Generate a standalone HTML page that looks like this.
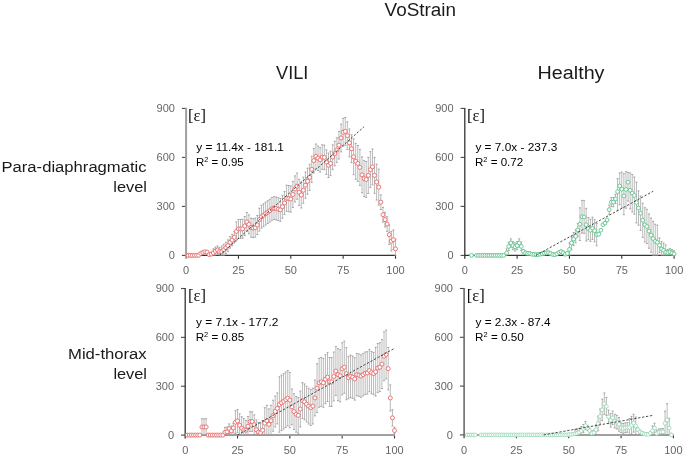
<!DOCTYPE html>
<html><head><meta charset="utf-8"><style>
html,body{margin:0;padding:0;background:#fff;}
body{width:685px;height:462px;overflow:hidden;position:relative;}
svg{position:absolute;left:0;top:0;will-change:transform;}
text{font-family:"Liberation Sans",sans-serif;}
.tk{font-size:11px;fill:#666;}
.hd{font-size:19.2px;fill:#1a1a1a;}
.rl{font-size:15.5px;fill:#1a1a1a;}
.eq{font-size:11px;fill:#000;}
.ep{font-family:"Liberation Serif",serif;font-size:16.6px;fill:#111;}
</style></head><body>
<svg width="685" height="462" viewBox="0 0 685 462">
<text x="384.6" y="15.8" class="hd" textLength="71.5" lengthAdjust="spacingAndGlyphs">VoStrain</text>
<text x="276.1" y="79.2" class="hd" textLength="32.2" lengthAdjust="spacingAndGlyphs">VILI</text>
<text x="537.6" y="79.3" class="hd" textLength="66.9" lengthAdjust="spacingAndGlyphs">Healthy</text>
<text x="1.5" y="171.6" class="rl" textLength="145.1" lengthAdjust="spacingAndGlyphs">Para-diaphragmatic</text>
<text x="113.3" y="191.9" class="rl" textLength="33.6" lengthAdjust="spacingAndGlyphs">level</text>
<text x="68.0" y="359.3" class="rl" textLength="78.7" lengthAdjust="spacingAndGlyphs">Mid-thorax</text>
<text x="113.4" y="379.3" class="rl" textLength="33.6" lengthAdjust="spacingAndGlyphs">level</text>
<text x="188.1" y="121.2" class="ep">[ε]</text>
<text x="466.9" y="121.2" class="ep">[ε]</text>
<text x="187.9" y="300.7" class="ep">[ε]</text>
<text x="466.7" y="300.7" class="ep">[ε]</text>
<text x="196.3" y="150.8" class="eq" textLength="87.6" lengthAdjust="spacingAndGlyphs">y = 11.4x - 181.1</text>
<text x="195.9" y="166.3" class="eq" textLength="47.8" lengthAdjust="spacingAndGlyphs">R<tspan font-size="7" dy="-4">2</tspan><tspan dy="4"> = 0.95</tspan></text>
<text x="475.4" y="151.1" class="eq" textLength="81.9" lengthAdjust="spacingAndGlyphs">y = 7.0x - 237.3</text>
<text x="475.0" y="166.3" class="eq" textLength="48.2" lengthAdjust="spacingAndGlyphs">R<tspan font-size="7" dy="-4">2</tspan><tspan dy="4"> = 0.72</tspan></text>
<text x="196.1" y="325.8" class="eq" textLength="82.2" lengthAdjust="spacingAndGlyphs">y = 7.1x - 177.2</text>
<text x="195.7" y="341.1" class="eq" textLength="48.6" lengthAdjust="spacingAndGlyphs">R<tspan font-size="7" dy="-4">2</tspan><tspan dy="4"> = 0.85</tspan></text>
<text x="475.5" y="325.8" class="eq" textLength="75.1" lengthAdjust="spacingAndGlyphs">y = 2.3x - 87.4</text>
<text x="475.1" y="341.1" class="eq" textLength="48.6" lengthAdjust="spacingAndGlyphs">R<tspan font-size="7" dy="-4">2</tspan><tspan dy="4"> = 0.50</tspan></text>
<line x1="181.90" y1="255.40" x2="186.10" y2="255.40" stroke="#4a4a4a" stroke-width="1.1"/>
<text x="174.90" y="259.35" text-anchor="end" class="tk">0</text>
<line x1="181.90" y1="206.40" x2="186.10" y2="206.40" stroke="#4a4a4a" stroke-width="1.1"/>
<text x="174.90" y="210.35" text-anchor="end" class="tk">300</text>
<line x1="181.90" y1="157.40" x2="186.10" y2="157.40" stroke="#4a4a4a" stroke-width="1.1"/>
<text x="174.90" y="161.35" text-anchor="end" class="tk">600</text>
<line x1="181.90" y1="108.40" x2="186.10" y2="108.40" stroke="#4a4a4a" stroke-width="1.1"/>
<text x="174.90" y="112.35" text-anchor="end" class="tk">900</text>
<line x1="238.45" y1="255.40" x2="238.45" y2="258.80" stroke="#333" stroke-width="1.1"/>
<line x1="290.80" y1="255.40" x2="290.80" y2="258.80" stroke="#333" stroke-width="1.1"/>
<line x1="343.15" y1="255.40" x2="343.15" y2="258.80" stroke="#333" stroke-width="1.1"/>
<line x1="395.50" y1="255.40" x2="395.50" y2="258.80" stroke="#333" stroke-width="1.1"/>
<text x="186.10" y="274.40" text-anchor="middle" class="tk">0</text>
<text x="238.45" y="274.40" text-anchor="middle" class="tk">25</text>
<text x="290.80" y="274.40" text-anchor="middle" class="tk">50</text>
<text x="343.15" y="274.40" text-anchor="middle" class="tk">75</text>
<text x="395.50" y="274.40" text-anchor="middle" class="tk">100</text>
<line x1="186.10" y1="255.40" x2="396.00" y2="255.40" stroke="#333" stroke-width="1.3"/>
<line x1="186.10" y1="107.90" x2="186.10" y2="258.80" stroke="#a0a0a0" stroke-width="2.0"/>
<line x1="460.60" y1="255.40" x2="464.80" y2="255.40" stroke="#4a4a4a" stroke-width="1.1"/>
<text x="453.60" y="259.35" text-anchor="end" class="tk">0</text>
<line x1="460.60" y1="206.40" x2="464.80" y2="206.40" stroke="#4a4a4a" stroke-width="1.1"/>
<text x="453.60" y="210.35" text-anchor="end" class="tk">300</text>
<line x1="460.60" y1="157.40" x2="464.80" y2="157.40" stroke="#4a4a4a" stroke-width="1.1"/>
<text x="453.60" y="161.35" text-anchor="end" class="tk">600</text>
<line x1="460.60" y1="108.40" x2="464.80" y2="108.40" stroke="#4a4a4a" stroke-width="1.1"/>
<text x="453.60" y="112.35" text-anchor="end" class="tk">900</text>
<line x1="517.12" y1="255.40" x2="517.12" y2="258.80" stroke="#333" stroke-width="1.1"/>
<line x1="569.45" y1="255.40" x2="569.45" y2="258.80" stroke="#333" stroke-width="1.1"/>
<line x1="621.77" y1="255.40" x2="621.77" y2="258.80" stroke="#333" stroke-width="1.1"/>
<line x1="674.10" y1="255.40" x2="674.10" y2="258.80" stroke="#333" stroke-width="1.1"/>
<text x="464.80" y="274.40" text-anchor="middle" class="tk">0</text>
<text x="517.12" y="274.40" text-anchor="middle" class="tk">25</text>
<text x="569.45" y="274.40" text-anchor="middle" class="tk">50</text>
<text x="621.77" y="274.40" text-anchor="middle" class="tk">75</text>
<text x="674.10" y="274.40" text-anchor="middle" class="tk">100</text>
<line x1="464.80" y1="255.40" x2="674.60" y2="255.40" stroke="#333" stroke-width="1.3"/>
<line x1="464.80" y1="107.90" x2="464.80" y2="258.80" stroke="#333" stroke-width="1.3"/>
<line x1="181.00" y1="435.10" x2="185.20" y2="435.10" stroke="#4a4a4a" stroke-width="1.1"/>
<text x="174.00" y="439.05" text-anchor="end" class="tk">0</text>
<line x1="181.00" y1="386.23" x2="185.20" y2="386.23" stroke="#4a4a4a" stroke-width="1.1"/>
<text x="174.00" y="390.18" text-anchor="end" class="tk">300</text>
<line x1="181.00" y1="337.37" x2="185.20" y2="337.37" stroke="#4a4a4a" stroke-width="1.1"/>
<text x="174.00" y="341.32" text-anchor="end" class="tk">600</text>
<line x1="181.00" y1="288.50" x2="185.20" y2="288.50" stroke="#4a4a4a" stroke-width="1.1"/>
<text x="174.00" y="292.45" text-anchor="end" class="tk">900</text>
<line x1="237.52" y1="435.10" x2="237.52" y2="438.50" stroke="#333" stroke-width="1.1"/>
<line x1="289.85" y1="435.10" x2="289.85" y2="438.50" stroke="#333" stroke-width="1.1"/>
<line x1="342.17" y1="435.10" x2="342.17" y2="438.50" stroke="#333" stroke-width="1.1"/>
<line x1="394.50" y1="435.10" x2="394.50" y2="438.50" stroke="#333" stroke-width="1.1"/>
<text x="185.20" y="454.10" text-anchor="middle" class="tk">0</text>
<text x="237.52" y="454.10" text-anchor="middle" class="tk">25</text>
<text x="289.85" y="454.10" text-anchor="middle" class="tk">50</text>
<text x="342.17" y="454.10" text-anchor="middle" class="tk">75</text>
<text x="394.50" y="454.10" text-anchor="middle" class="tk">100</text>
<line x1="185.20" y1="435.10" x2="395.00" y2="435.10" stroke="#a0a0a0" stroke-width="2.0"/>
<line x1="185.20" y1="288.00" x2="185.20" y2="438.50" stroke="#333" stroke-width="1.3"/>
<line x1="459.90" y1="434.90" x2="464.10" y2="434.90" stroke="#4a4a4a" stroke-width="1.1"/>
<text x="452.90" y="438.85" text-anchor="end" class="tk">0</text>
<line x1="459.90" y1="386.10" x2="464.10" y2="386.10" stroke="#4a4a4a" stroke-width="1.1"/>
<text x="452.90" y="390.05" text-anchor="end" class="tk">300</text>
<line x1="459.90" y1="337.30" x2="464.10" y2="337.30" stroke="#4a4a4a" stroke-width="1.1"/>
<text x="452.90" y="341.25" text-anchor="end" class="tk">600</text>
<line x1="459.90" y1="288.50" x2="464.10" y2="288.50" stroke="#4a4a4a" stroke-width="1.1"/>
<text x="452.90" y="292.45" text-anchor="end" class="tk">900</text>
<line x1="516.43" y1="434.90" x2="516.43" y2="438.30" stroke="#333" stroke-width="1.1"/>
<line x1="568.75" y1="434.90" x2="568.75" y2="438.30" stroke="#333" stroke-width="1.1"/>
<line x1="621.08" y1="434.90" x2="621.08" y2="438.30" stroke="#333" stroke-width="1.1"/>
<line x1="673.40" y1="434.90" x2="673.40" y2="438.30" stroke="#333" stroke-width="1.1"/>
<text x="464.10" y="453.90" text-anchor="middle" class="tk">0</text>
<text x="516.43" y="453.90" text-anchor="middle" class="tk">25</text>
<text x="568.75" y="453.90" text-anchor="middle" class="tk">50</text>
<text x="621.08" y="453.90" text-anchor="middle" class="tk">75</text>
<text x="673.40" y="453.90" text-anchor="middle" class="tk">100</text>
<line x1="464.10" y1="434.90" x2="673.90" y2="434.90" stroke="#a0a0a0" stroke-width="2.0"/>
<line x1="464.10" y1="288.00" x2="464.10" y2="438.30" stroke="#606060" stroke-width="1.5"/>
<path d="M188.19 254.75V255.40M190.29 254.75V255.40M192.38 254.75V255.40M194.48 254.75V255.40M196.57 254.75V255.40M198.66 254.58V255.40M200.76 252.79V254.09M202.85 251.81V253.11M204.95 251.15V252.46M207.04 251.48V252.79M209.13 252.95V255.40M211.23 252.46V255.40M213.32 248.87V255.40M215.42 247.07V255.24M217.51 245.93V254.09M219.60 247.56V255.40M221.70 245.93V255.40M223.79 244.13V255.40M225.89 242.17V253.60M227.98 239.88V251.32M230.07 236.62V248.05M232.17 234.33V245.76M234.26 231.55V242.99M236.36 221.92V240.86M238.45 219.47V238.41M240.54 219.47V238.41M242.64 219.30V238.25M244.73 216.53V235.47M246.83 212.44V231.39M248.92 214.89V233.84M251.01 218.16V237.11M253.11 218.65V237.60M255.20 218.16V237.11M257.30 215.55V234.49M259.39 208.20V231.06M261.48 205.26V228.12M263.58 203.79V226.65M265.67 202.15V225.02M267.77 200.68V223.55M269.86 199.21V222.08M271.95 197.42V220.28M274.05 196.60V219.47M276.14 197.09V219.96M278.24 197.74V220.61M280.33 198.40V221.26M282.42 195.29V218.16M284.52 191.54V214.40M286.61 185.17V211.30M288.71 185.49V211.63M290.80 185.98V212.12M292.89 181.41V207.54M294.99 175.86V201.99M297.08 173.08V199.21M299.18 179.29V205.42M301.27 181.90V208.03M303.36 177.16V203.30M305.46 172.10V198.23M307.55 168.18V194.31M309.65 164.26V190.39M311.74 156.26V182.39M313.83 148.42V172.92M315.93 144.01V168.51M318.02 145.97V170.47M320.12 147.60V172.10M322.21 144.82V169.32M324.30 145.15V169.65M326.40 149.89V174.39M328.49 152.99V177.49M330.59 151.19V175.69M332.68 144.82V169.32M334.77 141.23V165.73M336.87 137.80V162.30M338.96 131.27V159.03M341.06 124.08V151.85M343.15 118.36V146.13M345.24 117.55V145.31M347.34 121.79V149.56M349.43 128.98V156.75M351.53 134.86V162.63M353.62 138.78V174.71M355.71 143.35V179.29M357.81 145.48V181.41M359.90 149.40V185.33M362.00 156.91V192.84M364.09 160.67V196.60M366.18 161.48V197.42M368.28 157.40V193.33M370.37 151.68V187.62M372.47 148.91V184.84M374.56 157.40V193.33M376.65 164.10V200.03M378.75 169.16V205.09M380.84 194.80V209.50M382.94 207.38V222.08M385.03 212.28V226.98M387.12 216.69V231.39M389.22 224.86V244.46M391.31 231.39V250.99M393.41 229.92V249.52M395.50 239.07V255.40" stroke="#bababa" stroke-width="1.0" fill="none"/>
<path d="M187.19 254.75h2M187.19 255.40h2M189.29 254.75h2M189.29 255.40h2M191.38 254.75h2M191.38 255.40h2M193.48 254.75h2M193.48 255.40h2M195.57 254.75h2M195.57 255.40h2M197.66 254.58h2M197.66 255.40h2M199.76 252.79h2M199.76 254.09h2M201.85 251.81h2M201.85 253.11h2M203.95 251.15h2M203.95 252.46h2M206.04 251.48h2M206.04 252.79h2M208.13 252.95h2M208.13 255.40h2M210.23 252.46h2M210.23 255.40h2M212.32 248.87h2M212.32 255.40h2M214.42 247.07h2M214.42 255.24h2M216.51 245.93h2M216.51 254.09h2M218.60 247.56h2M218.60 255.40h2M220.70 245.93h2M220.70 255.40h2M222.79 244.13h2M222.79 255.40h2M224.89 242.17h2M224.89 253.60h2M226.98 239.88h2M226.98 251.32h2M229.07 236.62h2M229.07 248.05h2M231.17 234.33h2M231.17 245.76h2M233.26 231.55h2M233.26 242.99h2M235.36 221.92h2M235.36 240.86h2M237.45 219.47h2M237.45 238.41h2M239.54 219.47h2M239.54 238.41h2M241.64 219.30h2M241.64 238.25h2M243.73 216.53h2M243.73 235.47h2M245.83 212.44h2M245.83 231.39h2M247.92 214.89h2M247.92 233.84h2M250.01 218.16h2M250.01 237.11h2M252.11 218.65h2M252.11 237.60h2M254.20 218.16h2M254.20 237.11h2M256.30 215.55h2M256.30 234.49h2M258.39 208.20h2M258.39 231.06h2M260.48 205.26h2M260.48 228.12h2M262.58 203.79h2M262.58 226.65h2M264.67 202.15h2M264.67 225.02h2M266.77 200.68h2M266.77 223.55h2M268.86 199.21h2M268.86 222.08h2M270.95 197.42h2M270.95 220.28h2M273.05 196.60h2M273.05 219.47h2M275.14 197.09h2M275.14 219.96h2M277.24 197.74h2M277.24 220.61h2M279.33 198.40h2M279.33 221.26h2M281.42 195.29h2M281.42 218.16h2M283.52 191.54h2M283.52 214.40h2M285.61 185.17h2M285.61 211.30h2M287.71 185.49h2M287.71 211.63h2M289.80 185.98h2M289.80 212.12h2M291.89 181.41h2M291.89 207.54h2M293.99 175.86h2M293.99 201.99h2M296.08 173.08h2M296.08 199.21h2M298.18 179.29h2M298.18 205.42h2M300.27 181.90h2M300.27 208.03h2M302.36 177.16h2M302.36 203.30h2M304.46 172.10h2M304.46 198.23h2M306.55 168.18h2M306.55 194.31h2M308.65 164.26h2M308.65 190.39h2M310.74 156.26h2M310.74 182.39h2M312.83 148.42h2M312.83 172.92h2M314.93 144.01h2M314.93 168.51h2M317.02 145.97h2M317.02 170.47h2M319.12 147.60h2M319.12 172.10h2M321.21 144.82h2M321.21 169.32h2M323.30 145.15h2M323.30 169.65h2M325.40 149.89h2M325.40 174.39h2M327.49 152.99h2M327.49 177.49h2M329.59 151.19h2M329.59 175.69h2M331.68 144.82h2M331.68 169.32h2M333.77 141.23h2M333.77 165.73h2M335.87 137.80h2M335.87 162.30h2M337.96 131.27h2M337.96 159.03h2M340.06 124.08h2M340.06 151.85h2M342.15 118.36h2M342.15 146.13h2M344.24 117.55h2M344.24 145.31h2M346.34 121.79h2M346.34 149.56h2M348.43 128.98h2M348.43 156.75h2M350.53 134.86h2M350.53 162.63h2M352.62 138.78h2M352.62 174.71h2M354.71 143.35h2M354.71 179.29h2M356.81 145.48h2M356.81 181.41h2M358.90 149.40h2M358.90 185.33h2M361.00 156.91h2M361.00 192.84h2M363.09 160.67h2M363.09 196.60h2M365.18 161.48h2M365.18 197.42h2M367.28 157.40h2M367.28 193.33h2M369.37 151.68h2M369.37 187.62h2M371.47 148.91h2M371.47 184.84h2M373.56 157.40h2M373.56 193.33h2M375.65 164.10h2M375.65 200.03h2M377.75 169.16h2M377.75 205.09h2M379.84 194.80h2M379.84 209.50h2M381.94 207.38h2M381.94 222.08h2M384.03 212.28h2M384.03 226.98h2M386.12 216.69h2M386.12 231.39h2M388.22 224.86h2M388.22 244.46h2M390.31 231.39h2M390.31 250.99h2M392.41 229.92h2M392.41 249.52h2M394.50 239.07h2M394.50 255.40h2" stroke="#909090" stroke-width="0.8" fill="none"/>
<g fill="#fff" stroke="#e86a6a" stroke-width="0.9"><circle cx="188.19" cy="255.40" r="2.0"/><circle cx="190.29" cy="255.40" r="2.0"/><circle cx="192.38" cy="255.40" r="2.0"/><circle cx="194.48" cy="255.40" r="2.0"/><circle cx="196.57" cy="255.40" r="2.0"/><circle cx="198.66" cy="255.24" r="2.0"/><circle cx="200.76" cy="253.44" r="2.0"/><circle cx="202.85" cy="252.46" r="2.0"/><circle cx="204.95" cy="251.81" r="2.0"/><circle cx="207.04" cy="252.13" r="2.0"/><circle cx="209.13" cy="254.58" r="2.0"/><circle cx="211.23" cy="254.09" r="2.0"/><circle cx="213.32" cy="252.95" r="2.0"/><circle cx="215.42" cy="251.15" r="2.0"/><circle cx="217.51" cy="250.01" r="2.0"/><circle cx="219.60" cy="251.64" r="2.0"/><circle cx="221.70" cy="251.64" r="2.0"/><circle cx="223.79" cy="249.85" r="2.0"/><circle cx="225.89" cy="247.89" r="2.0"/><circle cx="227.98" cy="245.60" r="2.0"/><circle cx="230.07" cy="242.33" r="2.0"/><circle cx="232.17" cy="240.05" r="2.0"/><circle cx="234.26" cy="237.27" r="2.0"/><circle cx="236.36" cy="231.39" r="2.0"/><circle cx="238.45" cy="228.94" r="2.0"/><circle cx="240.54" cy="228.94" r="2.0"/><circle cx="242.64" cy="228.78" r="2.0"/><circle cx="244.73" cy="226.00" r="2.0"/><circle cx="246.83" cy="221.92" r="2.0"/><circle cx="248.92" cy="224.37" r="2.0"/><circle cx="251.01" cy="227.63" r="2.0"/><circle cx="253.11" cy="228.12" r="2.0"/><circle cx="255.20" cy="227.63" r="2.0"/><circle cx="257.30" cy="225.02" r="2.0"/><circle cx="259.39" cy="219.63" r="2.0"/><circle cx="261.48" cy="216.69" r="2.0"/><circle cx="263.58" cy="215.22" r="2.0"/><circle cx="265.67" cy="213.59" r="2.0"/><circle cx="267.77" cy="212.12" r="2.0"/><circle cx="269.86" cy="210.65" r="2.0"/><circle cx="271.95" cy="208.85" r="2.0"/><circle cx="274.05" cy="208.03" r="2.0"/><circle cx="276.14" cy="208.52" r="2.0"/><circle cx="278.24" cy="209.18" r="2.0"/><circle cx="280.33" cy="209.83" r="2.0"/><circle cx="282.42" cy="206.73" r="2.0"/><circle cx="284.52" cy="202.97" r="2.0"/><circle cx="286.61" cy="198.23" r="2.0"/><circle cx="288.71" cy="198.56" r="2.0"/><circle cx="290.80" cy="199.05" r="2.0"/><circle cx="292.89" cy="194.48" r="2.0"/><circle cx="294.99" cy="188.92" r="2.0"/><circle cx="297.08" cy="186.15" r="2.0"/><circle cx="299.18" cy="192.35" r="2.0"/><circle cx="301.27" cy="194.97" r="2.0"/><circle cx="303.36" cy="190.23" r="2.0"/><circle cx="305.46" cy="185.17" r="2.0"/><circle cx="307.55" cy="181.25" r="2.0"/><circle cx="309.65" cy="177.33" r="2.0"/><circle cx="311.74" cy="169.32" r="2.0"/><circle cx="313.83" cy="160.67" r="2.0"/><circle cx="315.93" cy="156.26" r="2.0"/><circle cx="318.02" cy="158.22" r="2.0"/><circle cx="320.12" cy="159.85" r="2.0"/><circle cx="322.21" cy="157.07" r="2.0"/><circle cx="324.30" cy="157.40" r="2.0"/><circle cx="326.40" cy="162.14" r="2.0"/><circle cx="328.49" cy="165.24" r="2.0"/><circle cx="330.59" cy="163.44" r="2.0"/><circle cx="332.68" cy="157.07" r="2.0"/><circle cx="334.77" cy="153.48" r="2.0"/><circle cx="336.87" cy="150.05" r="2.0"/><circle cx="338.96" cy="145.15" r="2.0"/><circle cx="341.06" cy="137.96" r="2.0"/><circle cx="343.15" cy="132.25" r="2.0"/><circle cx="345.24" cy="131.43" r="2.0"/><circle cx="347.34" cy="135.68" r="2.0"/><circle cx="349.43" cy="142.86" r="2.0"/><circle cx="351.53" cy="148.74" r="2.0"/><circle cx="353.62" cy="156.75" r="2.0"/><circle cx="355.71" cy="161.32" r="2.0"/><circle cx="357.81" cy="163.44" r="2.0"/><circle cx="359.90" cy="167.36" r="2.0"/><circle cx="362.00" cy="174.88" r="2.0"/><circle cx="364.09" cy="178.63" r="2.0"/><circle cx="366.18" cy="179.45" r="2.0"/><circle cx="368.28" cy="175.37" r="2.0"/><circle cx="370.37" cy="169.65" r="2.0"/><circle cx="372.47" cy="166.87" r="2.0"/><circle cx="374.56" cy="175.37" r="2.0"/><circle cx="376.65" cy="182.06" r="2.0"/><circle cx="378.75" cy="187.13" r="2.0"/><circle cx="380.84" cy="202.15" r="2.0"/><circle cx="382.94" cy="214.73" r="2.0"/><circle cx="385.03" cy="219.63" r="2.0"/><circle cx="387.12" cy="224.04" r="2.0"/><circle cx="389.22" cy="234.66" r="2.0"/><circle cx="391.31" cy="241.19" r="2.0"/><circle cx="393.41" cy="239.72" r="2.0"/><circle cx="395.50" cy="248.87" r="2.0"/></g>
<line x1="219.37" y1="255.40" x2="364.09" y2="126.71" stroke="#222" stroke-width="0.8" stroke-dasharray="2.3 1.7"/>
<path d="M471.50 255.07V255.40M476.52 255.07V255.40M478.61 255.07V255.40M480.71 255.07V255.40M482.80 255.07V255.40M484.89 255.07V255.40M486.99 255.07V255.40M489.08 255.07V255.40M491.17 255.07V255.40M493.26 255.07V255.40M495.36 255.07V255.40M497.45 255.07V255.40M499.54 255.07V255.40M501.64 255.07V255.40M503.73 255.07V255.40M506.66 248.87V255.40M508.75 242.33V250.50M510.85 238.90V247.07M512.94 241.52V249.68M515.03 242.82V250.99M517.12 241.52V249.68M519.22 238.90V247.07M521.31 242.33V250.50M523.40 249.68V252.95M525.50 251.32V254.58M527.59 251.81V255.07M529.68 251.81V255.07M531.78 252.62V255.40M533.87 252.79V255.40M535.96 253.11V255.40M538.06 252.95V255.40M540.15 252.62V255.40M542.24 252.13V255.40M544.33 251.64V254.91M546.43 251.32V254.58M548.52 251.15V254.42M550.61 251.97V255.24M552.71 252.95V255.40M554.80 253.11V255.40M556.89 252.30V255.40M558.99 250.83V254.09M561.08 250.01V253.28M563.17 251.15V254.42M565.26 252.62V255.40M567.36 251.81V255.07M569.45 242.82V255.40M571.54 236.45V249.52M573.64 232.53V245.60M575.73 229.76V242.82M577.82 223.39V236.45M579.91 207.87V240.54M582.01 200.36V233.02M584.10 200.68V233.35M586.19 208.36V241.03M588.29 217.51V239.72M590.38 219.14V241.35M592.47 217.18V239.39M594.57 219.63V241.84M596.66 223.55V245.76M598.75 233.35V234.98M600.85 229.43V231.06M602.94 223.88V225.51M605.03 222.24V223.88M607.12 219.14V220.77M609.22 205.09V214.24M611.31 197.58V206.73M613.40 197.58V206.73M615.50 194.31V203.46M617.59 178.63V210.48M619.68 172.92V204.77M621.77 172.10V207.87M623.87 173.73V214.73M625.96 171.77V208.20M628.05 172.43V201.01M630.15 172.92V209.01M632.24 174.55V211.95M634.33 177.00V214.24M636.43 182.06V222.90M638.52 190.88V225.18M640.61 196.11V230.41M642.71 203.13V237.43M644.80 207.71V242.01M646.89 209.34V243.64M648.98 213.91V248.21M651.08 218.00V252.30M653.17 221.43V255.40M655.26 224.20V255.40M657.36 225.18V255.40M659.45 237.92V252.62M661.54 241.68V255.40M663.63 242.99V255.40M665.73 244.95V255.40M667.82 249.36V255.40M669.91 248.70V255.24M672.01 249.68V255.40M674.10 250.66V255.40" stroke="#bababa" stroke-width="1.0" fill="none"/>
<path d="M470.50 255.07h2M470.50 255.40h2M475.52 255.07h2M475.52 255.40h2M477.61 255.07h2M477.61 255.40h2M479.71 255.07h2M479.71 255.40h2M481.80 255.07h2M481.80 255.40h2M483.89 255.07h2M483.89 255.40h2M485.99 255.07h2M485.99 255.40h2M488.08 255.07h2M488.08 255.40h2M490.17 255.07h2M490.17 255.40h2M492.26 255.07h2M492.26 255.40h2M494.36 255.07h2M494.36 255.40h2M496.45 255.07h2M496.45 255.40h2M498.54 255.07h2M498.54 255.40h2M500.64 255.07h2M500.64 255.40h2M502.73 255.07h2M502.73 255.40h2M505.66 248.87h2M505.66 255.40h2M507.75 242.33h2M507.75 250.50h2M509.85 238.90h2M509.85 247.07h2M511.94 241.52h2M511.94 249.68h2M514.03 242.82h2M514.03 250.99h2M516.12 241.52h2M516.12 249.68h2M518.22 238.90h2M518.22 247.07h2M520.31 242.33h2M520.31 250.50h2M522.40 249.68h2M522.40 252.95h2M524.50 251.32h2M524.50 254.58h2M526.59 251.81h2M526.59 255.07h2M528.68 251.81h2M528.68 255.07h2M530.78 252.62h2M530.78 255.40h2M532.87 252.79h2M532.87 255.40h2M534.96 253.11h2M534.96 255.40h2M537.06 252.95h2M537.06 255.40h2M539.15 252.62h2M539.15 255.40h2M541.24 252.13h2M541.24 255.40h2M543.33 251.64h2M543.33 254.91h2M545.43 251.32h2M545.43 254.58h2M547.52 251.15h2M547.52 254.42h2M549.61 251.97h2M549.61 255.24h2M551.71 252.95h2M551.71 255.40h2M553.80 253.11h2M553.80 255.40h2M555.89 252.30h2M555.89 255.40h2M557.99 250.83h2M557.99 254.09h2M560.08 250.01h2M560.08 253.28h2M562.17 251.15h2M562.17 254.42h2M564.26 252.62h2M564.26 255.40h2M566.36 251.81h2M566.36 255.07h2M568.45 242.82h2M568.45 255.40h2M570.54 236.45h2M570.54 249.52h2M572.64 232.53h2M572.64 245.60h2M574.73 229.76h2M574.73 242.82h2M576.82 223.39h2M576.82 236.45h2M578.91 207.87h2M578.91 240.54h2M581.01 200.36h2M581.01 233.02h2M583.10 200.68h2M583.10 233.35h2M585.19 208.36h2M585.19 241.03h2M587.29 217.51h2M587.29 239.72h2M589.38 219.14h2M589.38 241.35h2M591.47 217.18h2M591.47 239.39h2M593.57 219.63h2M593.57 241.84h2M595.66 223.55h2M595.66 245.76h2M597.75 233.35h2M597.75 234.98h2M599.85 229.43h2M599.85 231.06h2M601.94 223.88h2M601.94 225.51h2M604.03 222.24h2M604.03 223.88h2M606.12 219.14h2M606.12 220.77h2M608.22 205.09h2M608.22 214.24h2M610.31 197.58h2M610.31 206.73h2M612.40 197.58h2M612.40 206.73h2M614.50 194.31h2M614.50 203.46h2M616.59 178.63h2M616.59 210.48h2M618.68 172.92h2M618.68 204.77h2M620.77 172.10h2M620.77 207.87h2M622.87 173.73h2M622.87 214.73h2M624.96 171.77h2M624.96 208.20h2M627.05 172.43h2M627.05 201.01h2M629.15 172.92h2M629.15 209.01h2M631.24 174.55h2M631.24 211.95h2M633.33 177.00h2M633.33 214.24h2M635.43 182.06h2M635.43 222.90h2M637.52 190.88h2M637.52 225.18h2M639.61 196.11h2M639.61 230.41h2M641.71 203.13h2M641.71 237.43h2M643.80 207.71h2M643.80 242.01h2M645.89 209.34h2M645.89 243.64h2M647.98 213.91h2M647.98 248.21h2M650.08 218.00h2M650.08 252.30h2M652.17 221.43h2M652.17 255.40h2M654.26 224.20h2M654.26 255.40h2M656.36 225.18h2M656.36 255.40h2M658.45 237.92h2M658.45 252.62h2M660.54 241.68h2M660.54 255.40h2M662.63 242.99h2M662.63 255.40h2M664.73 244.95h2M664.73 255.40h2M666.82 249.36h2M666.82 255.40h2M668.91 248.70h2M668.91 255.24h2M671.01 249.68h2M671.01 255.40h2M673.10 250.66h2M673.10 255.40h2" stroke="#909090" stroke-width="0.8" fill="none"/>
<g fill="#fff" stroke="#5cc48a" stroke-width="0.9"><circle cx="471.50" cy="255.40" r="1.9"/><circle cx="476.52" cy="255.40" r="1.9"/><circle cx="478.61" cy="255.40" r="1.9"/><circle cx="480.71" cy="255.40" r="1.9"/><circle cx="482.80" cy="255.40" r="1.9"/><circle cx="484.89" cy="255.40" r="1.9"/><circle cx="486.99" cy="255.40" r="1.9"/><circle cx="489.08" cy="255.40" r="1.9"/><circle cx="491.17" cy="255.40" r="1.9"/><circle cx="493.26" cy="255.40" r="1.9"/><circle cx="495.36" cy="255.40" r="1.9"/><circle cx="497.45" cy="255.40" r="1.9"/><circle cx="499.54" cy="255.40" r="1.9"/><circle cx="501.64" cy="255.40" r="1.9"/><circle cx="503.73" cy="255.40" r="1.9"/><circle cx="506.66" cy="252.95" r="1.9"/><circle cx="508.75" cy="246.42" r="1.9"/><circle cx="510.85" cy="242.99" r="1.9"/><circle cx="512.94" cy="245.60" r="1.9"/><circle cx="515.03" cy="246.91" r="1.9"/><circle cx="517.12" cy="245.60" r="1.9"/><circle cx="519.22" cy="242.99" r="1.9"/><circle cx="521.31" cy="246.42" r="1.9"/><circle cx="523.40" cy="251.32" r="1.9"/><circle cx="525.50" cy="252.95" r="1.9"/><circle cx="527.59" cy="253.44" r="1.9"/><circle cx="529.68" cy="253.44" r="1.9"/><circle cx="531.78" cy="254.26" r="1.9"/><circle cx="533.87" cy="254.42" r="1.9"/><circle cx="535.96" cy="254.75" r="1.9"/><circle cx="538.06" cy="254.58" r="1.9"/><circle cx="540.15" cy="254.26" r="1.9"/><circle cx="542.24" cy="253.77" r="1.9"/><circle cx="544.33" cy="253.28" r="1.9"/><circle cx="546.43" cy="252.95" r="1.9"/><circle cx="548.52" cy="252.79" r="1.9"/><circle cx="550.61" cy="253.60" r="1.9"/><circle cx="552.71" cy="254.58" r="1.9"/><circle cx="554.80" cy="254.75" r="1.9"/><circle cx="556.89" cy="253.93" r="1.9"/><circle cx="558.99" cy="252.46" r="1.9"/><circle cx="561.08" cy="251.64" r="1.9"/><circle cx="563.17" cy="252.79" r="1.9"/><circle cx="565.26" cy="254.26" r="1.9"/><circle cx="567.36" cy="253.44" r="1.9"/><circle cx="569.45" cy="249.36" r="1.9"/><circle cx="571.54" cy="242.99" r="1.9"/><circle cx="573.64" cy="239.07" r="1.9"/><circle cx="575.73" cy="236.29" r="1.9"/><circle cx="577.82" cy="229.92" r="1.9"/><circle cx="579.91" cy="224.20" r="1.9"/><circle cx="582.01" cy="216.69" r="1.9"/><circle cx="584.10" cy="217.02" r="1.9"/><circle cx="586.19" cy="224.69" r="1.9"/><circle cx="588.29" cy="228.61" r="1.9"/><circle cx="590.38" cy="230.25" r="1.9"/><circle cx="592.47" cy="228.29" r="1.9"/><circle cx="594.57" cy="230.74" r="1.9"/><circle cx="596.66" cy="234.66" r="1.9"/><circle cx="598.75" cy="234.17" r="1.9"/><circle cx="600.85" cy="230.25" r="1.9"/><circle cx="602.94" cy="224.69" r="1.9"/><circle cx="605.03" cy="223.06" r="1.9"/><circle cx="607.12" cy="219.96" r="1.9"/><circle cx="609.22" cy="209.67" r="1.9"/><circle cx="611.31" cy="202.15" r="1.9"/><circle cx="613.40" cy="202.15" r="1.9"/><circle cx="615.50" cy="198.89" r="1.9"/><circle cx="617.59" cy="191.70" r="1.9"/><circle cx="619.68" cy="185.98" r="1.9"/><circle cx="621.77" cy="189.09" r="1.9"/><circle cx="623.87" cy="195.95" r="1.9"/><circle cx="625.96" cy="189.41" r="1.9"/><circle cx="628.05" cy="182.23" r="1.9"/><circle cx="630.15" cy="190.23" r="1.9"/><circle cx="632.24" cy="193.17" r="1.9"/><circle cx="634.33" cy="195.46" r="1.9"/><circle cx="636.43" cy="202.48" r="1.9"/><circle cx="638.52" cy="208.03" r="1.9"/><circle cx="640.61" cy="213.26" r="1.9"/><circle cx="642.71" cy="220.28" r="1.9"/><circle cx="644.80" cy="224.86" r="1.9"/><circle cx="646.89" cy="226.49" r="1.9"/><circle cx="648.98" cy="231.06" r="1.9"/><circle cx="651.08" cy="235.15" r="1.9"/><circle cx="653.17" cy="238.58" r="1.9"/><circle cx="655.26" cy="241.35" r="1.9"/><circle cx="657.36" cy="242.33" r="1.9"/><circle cx="659.45" cy="245.27" r="1.9"/><circle cx="661.54" cy="249.03" r="1.9"/><circle cx="663.63" cy="250.34" r="1.9"/><circle cx="665.73" cy="252.30" r="1.9"/><circle cx="667.82" cy="252.62" r="1.9"/><circle cx="669.91" cy="251.97" r="1.9"/><circle cx="672.01" cy="252.95" r="1.9"/><circle cx="674.10" cy="253.93" r="1.9"/></g>
<line x1="535.75" y1="255.40" x2="653.17" y2="191.26" stroke="#222" stroke-width="0.8" stroke-dasharray="2.3 1.7"/>
<path d="M187.29 434.77V435.10M189.39 434.77V435.10M191.48 434.77V435.10M193.57 434.77V435.10M195.66 434.77V435.10M197.76 434.77V435.10M199.85 434.77V435.10M201.94 418.81V435.10M204.04 418.81V435.10M206.13 418.81V435.10M208.22 434.61V435.10M210.32 434.61V435.10M212.41 434.61V435.10M214.50 434.61V435.10M216.59 434.61V435.10M218.69 434.61V435.10M220.78 434.61V435.10M222.87 434.61V435.10M224.97 427.44V435.10M227.06 426.96V435.10M229.15 423.86V433.63M231.25 425.98V435.10M233.34 423.05V432.82M235.43 410.83V433.63M237.52 409.53V432.33M239.62 413.92V435.10M241.71 416.69V435.10M243.80 418.49V435.10M245.90 420.44V435.10M247.99 416.53V435.10M250.08 411.81V431.35M252.18 411.81V431.35M254.27 414.90V434.45M256.36 419.95V435.10M258.45 422.39V435.10M260.55 423.05V435.10M262.64 420.44V435.10M264.73 407.73V435.10M266.83 405.29V435.10M268.92 408.87V435.10M271.01 405.29V435.10M273.11 400.24V431.19M275.20 396.01V426.96M277.29 392.91V423.86M279.38 376.79V432.17M281.48 375.16V430.54M283.57 373.69V429.07M285.66 372.06V427.44M287.76 370.60V425.98M289.85 372.39V427.77M291.94 389.00V424.84M294.04 393.73V429.56M296.13 396.33V432.17M298.22 397.47V433.31M300.31 391.12V426.96M302.41 382.65V418.49M304.50 383.95V419.79M306.59 386.23V422.07M308.69 388.19V424.02M310.78 389.65V425.49M312.87 388.19V424.02M314.97 380.04V415.88M317.06 363.75V412.62M319.15 358.38V407.25M321.25 357.40V406.27M323.34 358.38V407.25M325.43 354.80V403.66M327.52 352.68V401.54M329.62 357.40V406.27M331.71 357.56V406.43M333.80 352.03V400.89M335.90 346.65V395.52M337.99 348.61V400.73M340.08 349.75V401.87M342.17 342.74V394.87M344.27 341.11V393.24M346.36 347.63V399.75M348.45 356.42V398.78M350.55 355.12V397.47M352.64 356.10V398.45M354.73 357.73V400.08M356.83 353.49V395.84M358.92 353.98V396.33M361.01 354.96V397.31M363.11 353.49V395.84M365.20 352.03V394.38M367.29 351.70V394.05M369.38 349.42V391.77M371.48 351.38V393.73M373.57 352.35V394.70M375.66 347.30V396.17M377.76 343.56V392.42M379.85 342.74V391.61M381.94 339.65V388.51M384.03 331.83V380.70M386.13 330.04V378.90M388.22 347.47V389.82M390.31 384.93V410.99M392.41 409.69V425.98M394.50 427.28V433.80" stroke="#bababa" stroke-width="1.0" fill="none"/>
<path d="M186.29 434.77h2M186.29 435.10h2M188.39 434.77h2M188.39 435.10h2M190.48 434.77h2M190.48 435.10h2M192.57 434.77h2M192.57 435.10h2M194.66 434.77h2M194.66 435.10h2M196.76 434.77h2M196.76 435.10h2M198.85 434.77h2M198.85 435.10h2M200.94 418.81h2M200.94 435.10h2M203.04 418.81h2M203.04 435.10h2M205.13 418.81h2M205.13 435.10h2M207.22 434.61h2M207.22 435.10h2M209.32 434.61h2M209.32 435.10h2M211.41 434.61h2M211.41 435.10h2M213.50 434.61h2M213.50 435.10h2M215.59 434.61h2M215.59 435.10h2M217.69 434.61h2M217.69 435.10h2M219.78 434.61h2M219.78 435.10h2M221.87 434.61h2M221.87 435.10h2M223.97 427.44h2M223.97 435.10h2M226.06 426.96h2M226.06 435.10h2M228.15 423.86h2M228.15 433.63h2M230.25 425.98h2M230.25 435.10h2M232.34 423.05h2M232.34 432.82h2M234.43 410.83h2M234.43 433.63h2M236.52 409.53h2M236.52 432.33h2M238.62 413.92h2M238.62 435.10h2M240.71 416.69h2M240.71 435.10h2M242.80 418.49h2M242.80 435.10h2M244.90 420.44h2M244.90 435.10h2M246.99 416.53h2M246.99 435.10h2M249.08 411.81h2M249.08 431.35h2M251.18 411.81h2M251.18 431.35h2M253.27 414.90h2M253.27 434.45h2M255.36 419.95h2M255.36 435.10h2M257.45 422.39h2M257.45 435.10h2M259.55 423.05h2M259.55 435.10h2M261.64 420.44h2M261.64 435.10h2M263.73 407.73h2M263.73 435.10h2M265.83 405.29h2M265.83 435.10h2M267.92 408.87h2M267.92 435.10h2M270.01 405.29h2M270.01 435.10h2M272.11 400.24h2M272.11 431.19h2M274.20 396.01h2M274.20 426.96h2M276.29 392.91h2M276.29 423.86h2M278.38 376.79h2M278.38 432.17h2M280.48 375.16h2M280.48 430.54h2M282.57 373.69h2M282.57 429.07h2M284.66 372.06h2M284.66 427.44h2M286.76 370.60h2M286.76 425.98h2M288.85 372.39h2M288.85 427.77h2M290.94 389.00h2M290.94 424.84h2M293.04 393.73h2M293.04 429.56h2M295.13 396.33h2M295.13 432.17h2M297.22 397.47h2M297.22 433.31h2M299.31 391.12h2M299.31 426.96h2M301.41 382.65h2M301.41 418.49h2M303.50 383.95h2M303.50 419.79h2M305.59 386.23h2M305.59 422.07h2M307.69 388.19h2M307.69 424.02h2M309.78 389.65h2M309.78 425.49h2M311.87 388.19h2M311.87 424.02h2M313.97 380.04h2M313.97 415.88h2M316.06 363.75h2M316.06 412.62h2M318.15 358.38h2M318.15 407.25h2M320.25 357.40h2M320.25 406.27h2M322.34 358.38h2M322.34 407.25h2M324.43 354.80h2M324.43 403.66h2M326.52 352.68h2M326.52 401.54h2M328.62 357.40h2M328.62 406.27h2M330.71 357.56h2M330.71 406.43h2M332.80 352.03h2M332.80 400.89h2M334.90 346.65h2M334.90 395.52h2M336.99 348.61h2M336.99 400.73h2M339.08 349.75h2M339.08 401.87h2M341.17 342.74h2M341.17 394.87h2M343.27 341.11h2M343.27 393.24h2M345.36 347.63h2M345.36 399.75h2M347.45 356.42h2M347.45 398.78h2M349.55 355.12h2M349.55 397.47h2M351.64 356.10h2M351.64 398.45h2M353.73 357.73h2M353.73 400.08h2M355.83 353.49h2M355.83 395.84h2M357.92 353.98h2M357.92 396.33h2M360.01 354.96h2M360.01 397.31h2M362.11 353.49h2M362.11 395.84h2M364.20 352.03h2M364.20 394.38h2M366.29 351.70h2M366.29 394.05h2M368.38 349.42h2M368.38 391.77h2M370.48 351.38h2M370.48 393.73h2M372.57 352.35h2M372.57 394.70h2M374.66 347.30h2M374.66 396.17h2M376.76 343.56h2M376.76 392.42h2M378.85 342.74h2M378.85 391.61h2M380.94 339.65h2M380.94 388.51h2M383.03 331.83h2M383.03 380.70h2M385.13 330.04h2M385.13 378.90h2M387.22 347.47h2M387.22 389.82h2M389.31 384.93h2M389.31 410.99h2M391.41 409.69h2M391.41 425.98h2M393.50 427.28h2M393.50 433.80h2" stroke="#909090" stroke-width="0.8" fill="none"/>
<g fill="#fff" stroke="#e86a6a" stroke-width="0.9"><circle cx="187.29" cy="435.10" r="2.0"/><circle cx="189.39" cy="435.10" r="2.0"/><circle cx="191.48" cy="435.10" r="2.0"/><circle cx="193.57" cy="435.10" r="2.0"/><circle cx="195.66" cy="435.10" r="2.0"/><circle cx="197.76" cy="435.10" r="2.0"/><circle cx="199.85" cy="435.10" r="2.0"/><circle cx="201.94" cy="426.96" r="2.0"/><circle cx="204.04" cy="426.96" r="2.0"/><circle cx="206.13" cy="426.96" r="2.0"/><circle cx="208.22" cy="435.10" r="2.0"/><circle cx="210.32" cy="435.10" r="2.0"/><circle cx="212.41" cy="435.10" r="2.0"/><circle cx="214.50" cy="435.10" r="2.0"/><circle cx="216.59" cy="435.10" r="2.0"/><circle cx="218.69" cy="435.10" r="2.0"/><circle cx="220.78" cy="435.10" r="2.0"/><circle cx="222.87" cy="435.10" r="2.0"/><circle cx="224.97" cy="432.33" r="2.0"/><circle cx="227.06" cy="431.84" r="2.0"/><circle cx="229.15" cy="428.75" r="2.0"/><circle cx="231.25" cy="430.86" r="2.0"/><circle cx="233.34" cy="427.93" r="2.0"/><circle cx="235.43" cy="422.23" r="2.0"/><circle cx="237.52" cy="420.93" r="2.0"/><circle cx="239.62" cy="425.33" r="2.0"/><circle cx="241.71" cy="428.10" r="2.0"/><circle cx="243.80" cy="429.89" r="2.0"/><circle cx="245.90" cy="430.21" r="2.0"/><circle cx="247.99" cy="426.30" r="2.0"/><circle cx="250.08" cy="421.58" r="2.0"/><circle cx="252.18" cy="421.58" r="2.0"/><circle cx="254.27" cy="424.68" r="2.0"/><circle cx="256.36" cy="429.72" r="2.0"/><circle cx="258.45" cy="432.17" r="2.0"/><circle cx="260.55" cy="432.82" r="2.0"/><circle cx="262.64" cy="430.21" r="2.0"/><circle cx="264.73" cy="423.21" r="2.0"/><circle cx="266.83" cy="420.77" r="2.0"/><circle cx="268.92" cy="424.35" r="2.0"/><circle cx="271.01" cy="420.77" r="2.0"/><circle cx="273.11" cy="415.72" r="2.0"/><circle cx="275.20" cy="411.48" r="2.0"/><circle cx="277.29" cy="408.39" r="2.0"/><circle cx="279.38" cy="404.48" r="2.0"/><circle cx="281.48" cy="402.85" r="2.0"/><circle cx="283.57" cy="401.38" r="2.0"/><circle cx="285.66" cy="399.75" r="2.0"/><circle cx="287.76" cy="398.29" r="2.0"/><circle cx="289.85" cy="400.08" r="2.0"/><circle cx="291.94" cy="406.92" r="2.0"/><circle cx="294.04" cy="411.64" r="2.0"/><circle cx="296.13" cy="414.25" r="2.0"/><circle cx="298.22" cy="415.39" r="2.0"/><circle cx="300.31" cy="409.04" r="2.0"/><circle cx="302.41" cy="400.57" r="2.0"/><circle cx="304.50" cy="401.87" r="2.0"/><circle cx="306.59" cy="404.15" r="2.0"/><circle cx="308.69" cy="406.11" r="2.0"/><circle cx="310.78" cy="407.57" r="2.0"/><circle cx="312.87" cy="406.11" r="2.0"/><circle cx="314.97" cy="397.96" r="2.0"/><circle cx="317.06" cy="388.19" r="2.0"/><circle cx="319.15" cy="382.81" r="2.0"/><circle cx="321.25" cy="381.84" r="2.0"/><circle cx="323.34" cy="382.81" r="2.0"/><circle cx="325.43" cy="379.23" r="2.0"/><circle cx="327.52" cy="377.11" r="2.0"/><circle cx="329.62" cy="381.84" r="2.0"/><circle cx="331.71" cy="382.00" r="2.0"/><circle cx="333.80" cy="376.46" r="2.0"/><circle cx="335.90" cy="371.08" r="2.0"/><circle cx="337.99" cy="374.67" r="2.0"/><circle cx="340.08" cy="375.81" r="2.0"/><circle cx="342.17" cy="368.80" r="2.0"/><circle cx="344.27" cy="367.18" r="2.0"/><circle cx="346.36" cy="373.69" r="2.0"/><circle cx="348.45" cy="377.60" r="2.0"/><circle cx="350.55" cy="376.30" r="2.0"/><circle cx="352.64" cy="377.27" r="2.0"/><circle cx="354.73" cy="378.90" r="2.0"/><circle cx="356.83" cy="374.67" r="2.0"/><circle cx="358.92" cy="375.16" r="2.0"/><circle cx="361.01" cy="376.13" r="2.0"/><circle cx="363.11" cy="374.67" r="2.0"/><circle cx="365.20" cy="373.20" r="2.0"/><circle cx="367.29" cy="372.88" r="2.0"/><circle cx="369.38" cy="370.60" r="2.0"/><circle cx="371.48" cy="372.55" r="2.0"/><circle cx="373.57" cy="373.53" r="2.0"/><circle cx="375.66" cy="371.74" r="2.0"/><circle cx="377.76" cy="367.99" r="2.0"/><circle cx="379.85" cy="367.18" r="2.0"/><circle cx="381.94" cy="364.08" r="2.0"/><circle cx="384.03" cy="356.26" r="2.0"/><circle cx="386.13" cy="354.47" r="2.0"/><circle cx="388.22" cy="368.64" r="2.0"/><circle cx="390.31" cy="397.96" r="2.0"/><circle cx="392.41" cy="417.83" r="2.0"/><circle cx="394.50" cy="430.54" r="2.0"/></g>
<line x1="237.44" y1="435.10" x2="394.50" y2="348.31" stroke="#222" stroke-width="0.8" stroke-dasharray="2.3 1.7"/>
<path d="M466.93 434.74V434.90M469.02 434.74V434.90M471.11 434.74V434.90M473.20 434.74V434.90M475.30 434.74V434.90M480.84 434.74V434.90M482.94 434.74V434.90M485.03 434.74V434.90M487.12 434.74V434.90M489.22 434.74V434.90M491.31 434.74V434.90M493.40 434.74V434.90M495.50 434.74V434.90M497.59 434.74V434.90M499.68 434.74V434.90M501.77 434.74V434.90M503.87 434.74V434.90M505.96 434.74V434.90M508.05 434.74V434.90M510.15 434.74V434.90M512.24 434.74V434.90M514.33 434.74V434.90M516.43 434.74V434.90M518.52 434.74V434.90M520.61 434.74V434.90M522.70 434.74V434.90M524.80 434.74V434.90M526.89 434.74V434.90M528.98 434.74V434.90M531.08 434.74V434.90M533.17 434.74V434.90M535.26 434.74V434.90M537.36 434.74V434.90M539.45 434.74V434.90M541.54 434.74V434.90M543.63 434.74V434.90M545.73 434.74V434.90M547.82 434.74V434.90M549.91 434.74V434.90M552.01 434.74V434.90M554.10 434.74V434.90M556.19 434.74V434.90M558.29 434.74V434.90M560.38 434.74V434.90M562.47 434.74V434.90M564.56 434.74V434.90M566.66 434.74V434.90M568.75 434.41V434.74M570.84 434.25V434.57M572.94 433.92V434.25M575.03 429.69V434.90M577.12 429.21V434.90M579.22 428.23V434.90M581.31 426.60V434.74M583.40 424.49V432.62M585.49 421.56V429.69M587.59 425.63V430.51M589.68 428.23V433.11M591.77 430.83V434.90M593.87 430.18V434.90M595.96 424.81V434.57M598.05 416.19V430.83M600.14 409.04V423.68M602.24 399.11V420.59M604.33 392.93V414.40M606.42 397.49V415.38M608.52 410.01V423.68M610.61 413.43V427.09M612.70 410.99V424.65M614.80 414.24V427.91M616.89 415.38V429.04M618.98 417.49V431.16M621.08 422.86V432.62M623.17 423.51V433.27M625.26 422.86V432.62M627.35 422.54V432.30M629.45 418.47V434.90M631.54 416.36V434.25M633.63 414.24V432.13M635.73 417.01V434.90M637.82 427.91V431.16M639.91 430.18V433.44M642.00 431.48V434.74M644.10 432.30V434.90M646.19 432.79V434.90M648.28 432.79V434.90M650.38 431.48V434.74M652.47 425.95V434.90M654.56 423.19V432.95M656.66 430.18V434.90M658.75 429.04V434.90M660.84 428.72V434.90M662.94 428.56V434.90M665.03 411.15V434.90M667.12 403.67V434.90M669.21 418.31V434.90M671.31 433.27V434.90" stroke="#bababa" stroke-width="1.0" fill="none"/>
<path d="M465.93 434.74h2M465.93 434.90h2M468.02 434.74h2M468.02 434.90h2M470.11 434.74h2M470.11 434.90h2M472.20 434.74h2M472.20 434.90h2M474.30 434.74h2M474.30 434.90h2M479.84 434.74h2M479.84 434.90h2M481.94 434.74h2M481.94 434.90h2M484.03 434.74h2M484.03 434.90h2M486.12 434.74h2M486.12 434.90h2M488.22 434.74h2M488.22 434.90h2M490.31 434.74h2M490.31 434.90h2M492.40 434.74h2M492.40 434.90h2M494.50 434.74h2M494.50 434.90h2M496.59 434.74h2M496.59 434.90h2M498.68 434.74h2M498.68 434.90h2M500.77 434.74h2M500.77 434.90h2M502.87 434.74h2M502.87 434.90h2M504.96 434.74h2M504.96 434.90h2M507.05 434.74h2M507.05 434.90h2M509.15 434.74h2M509.15 434.90h2M511.24 434.74h2M511.24 434.90h2M513.33 434.74h2M513.33 434.90h2M515.43 434.74h2M515.43 434.90h2M517.52 434.74h2M517.52 434.90h2M519.61 434.74h2M519.61 434.90h2M521.70 434.74h2M521.70 434.90h2M523.80 434.74h2M523.80 434.90h2M525.89 434.74h2M525.89 434.90h2M527.98 434.74h2M527.98 434.90h2M530.08 434.74h2M530.08 434.90h2M532.17 434.74h2M532.17 434.90h2M534.26 434.74h2M534.26 434.90h2M536.36 434.74h2M536.36 434.90h2M538.45 434.74h2M538.45 434.90h2M540.54 434.74h2M540.54 434.90h2M542.63 434.74h2M542.63 434.90h2M544.73 434.74h2M544.73 434.90h2M546.82 434.74h2M546.82 434.90h2M548.91 434.74h2M548.91 434.90h2M551.01 434.74h2M551.01 434.90h2M553.10 434.74h2M553.10 434.90h2M555.19 434.74h2M555.19 434.90h2M557.29 434.74h2M557.29 434.90h2M559.38 434.74h2M559.38 434.90h2M561.47 434.74h2M561.47 434.90h2M563.56 434.74h2M563.56 434.90h2M565.66 434.74h2M565.66 434.90h2M567.75 434.41h2M567.75 434.74h2M569.84 434.25h2M569.84 434.57h2M571.94 433.92h2M571.94 434.25h2M574.03 429.69h2M574.03 434.90h2M576.12 429.21h2M576.12 434.90h2M578.22 428.23h2M578.22 434.90h2M580.31 426.60h2M580.31 434.74h2M582.40 424.49h2M582.40 432.62h2M584.49 421.56h2M584.49 429.69h2M586.59 425.63h2M586.59 430.51h2M588.68 428.23h2M588.68 433.11h2M590.77 430.83h2M590.77 434.90h2M592.87 430.18h2M592.87 434.90h2M594.96 424.81h2M594.96 434.57h2M597.05 416.19h2M597.05 430.83h2M599.14 409.04h2M599.14 423.68h2M601.24 399.11h2M601.24 420.59h2M603.33 392.93h2M603.33 414.40h2M605.42 397.49h2M605.42 415.38h2M607.52 410.01h2M607.52 423.68h2M609.61 413.43h2M609.61 427.09h2M611.70 410.99h2M611.70 424.65h2M613.80 414.24h2M613.80 427.91h2M615.89 415.38h2M615.89 429.04h2M617.98 417.49h2M617.98 431.16h2M620.08 422.86h2M620.08 432.62h2M622.17 423.51h2M622.17 433.27h2M624.26 422.86h2M624.26 432.62h2M626.35 422.54h2M626.35 432.30h2M628.45 418.47h2M628.45 434.90h2M630.54 416.36h2M630.54 434.25h2M632.63 414.24h2M632.63 432.13h2M634.73 417.01h2M634.73 434.90h2M636.82 427.91h2M636.82 431.16h2M638.91 430.18h2M638.91 433.44h2M641.00 431.48h2M641.00 434.74h2M643.10 432.30h2M643.10 434.90h2M645.19 432.79h2M645.19 434.90h2M647.28 432.79h2M647.28 434.90h2M649.38 431.48h2M649.38 434.74h2M651.47 425.95h2M651.47 434.90h2M653.56 423.19h2M653.56 432.95h2M655.66 430.18h2M655.66 434.90h2M657.75 429.04h2M657.75 434.90h2M659.84 428.72h2M659.84 434.90h2M661.94 428.56h2M661.94 434.90h2M664.03 411.15h2M664.03 434.90h2M666.12 403.67h2M666.12 434.90h2M668.21 418.31h2M668.21 434.90h2M670.31 433.27h2M670.31 434.90h2" stroke="#909090" stroke-width="0.8" fill="none"/>
<g fill="#fff" stroke="#8fd6ad" stroke-width="0.75"><circle cx="466.93" cy="434.90" r="1.85"/><circle cx="469.02" cy="434.90" r="1.85"/><circle cx="471.11" cy="434.90" r="1.85"/><circle cx="473.20" cy="434.90" r="1.85"/><circle cx="475.30" cy="434.90" r="1.85"/><circle cx="480.84" cy="434.90" r="1.85"/><circle cx="482.94" cy="434.90" r="1.85"/><circle cx="485.03" cy="434.90" r="1.85"/><circle cx="487.12" cy="434.90" r="1.85"/><circle cx="489.22" cy="434.90" r="1.85"/><circle cx="491.31" cy="434.90" r="1.85"/><circle cx="493.40" cy="434.90" r="1.85"/><circle cx="495.50" cy="434.90" r="1.85"/><circle cx="497.59" cy="434.90" r="1.85"/><circle cx="499.68" cy="434.90" r="1.85"/><circle cx="501.77" cy="434.90" r="1.85"/><circle cx="503.87" cy="434.90" r="1.85"/><circle cx="505.96" cy="434.90" r="1.85"/><circle cx="508.05" cy="434.90" r="1.85"/><circle cx="510.15" cy="434.90" r="1.85"/><circle cx="512.24" cy="434.90" r="1.85"/><circle cx="514.33" cy="434.90" r="1.85"/><circle cx="516.43" cy="434.90" r="1.85"/><circle cx="518.52" cy="434.90" r="1.85"/><circle cx="520.61" cy="434.90" r="1.85"/><circle cx="522.70" cy="434.90" r="1.85"/><circle cx="524.80" cy="434.90" r="1.85"/><circle cx="526.89" cy="434.90" r="1.85"/><circle cx="528.98" cy="434.90" r="1.85"/><circle cx="531.08" cy="434.90" r="1.85"/><circle cx="533.17" cy="434.90" r="1.85"/><circle cx="535.26" cy="434.90" r="1.85"/><circle cx="537.36" cy="434.90" r="1.85"/><circle cx="539.45" cy="434.90" r="1.85"/><circle cx="541.54" cy="434.90" r="1.85"/><circle cx="543.63" cy="434.90" r="1.85"/><circle cx="545.73" cy="434.90" r="1.85"/><circle cx="547.82" cy="434.90" r="1.85"/><circle cx="549.91" cy="434.90" r="1.85"/><circle cx="552.01" cy="434.90" r="1.85"/><circle cx="554.10" cy="434.90" r="1.85"/><circle cx="556.19" cy="434.90" r="1.85"/><circle cx="558.29" cy="434.90" r="1.85"/><circle cx="560.38" cy="434.90" r="1.85"/><circle cx="562.47" cy="434.90" r="1.85"/><circle cx="564.56" cy="434.90" r="1.85"/><circle cx="566.66" cy="434.90" r="1.85"/><circle cx="568.75" cy="434.57" r="1.85"/><circle cx="570.84" cy="434.41" r="1.85"/><circle cx="572.94" cy="434.09" r="1.85"/><circle cx="575.03" cy="433.76" r="1.85"/><circle cx="577.12" cy="433.27" r="1.85"/><circle cx="579.22" cy="432.30" r="1.85"/><circle cx="581.31" cy="430.67" r="1.85"/><circle cx="583.40" cy="428.56" r="1.85"/><circle cx="585.49" cy="425.63" r="1.85"/><circle cx="587.59" cy="428.07" r="1.85"/><circle cx="589.68" cy="430.67" r="1.85"/><circle cx="591.77" cy="433.27" r="1.85"/><circle cx="593.87" cy="432.62" r="1.85"/><circle cx="595.96" cy="429.69" r="1.85"/><circle cx="598.05" cy="423.51" r="1.85"/><circle cx="600.14" cy="416.36" r="1.85"/><circle cx="602.24" cy="409.85" r="1.85"/><circle cx="604.33" cy="403.67" r="1.85"/><circle cx="606.42" cy="406.43" r="1.85"/><circle cx="608.52" cy="416.84" r="1.85"/><circle cx="610.61" cy="420.26" r="1.85"/><circle cx="612.70" cy="417.82" r="1.85"/><circle cx="614.80" cy="421.07" r="1.85"/><circle cx="616.89" cy="422.21" r="1.85"/><circle cx="618.98" cy="424.33" r="1.85"/><circle cx="621.08" cy="427.74" r="1.85"/><circle cx="623.17" cy="428.39" r="1.85"/><circle cx="625.26" cy="427.74" r="1.85"/><circle cx="627.35" cy="427.42" r="1.85"/><circle cx="629.45" cy="427.42" r="1.85"/><circle cx="631.54" cy="425.30" r="1.85"/><circle cx="633.63" cy="423.19" r="1.85"/><circle cx="635.73" cy="425.95" r="1.85"/><circle cx="637.82" cy="429.53" r="1.85"/><circle cx="639.91" cy="431.81" r="1.85"/><circle cx="642.00" cy="433.11" r="1.85"/><circle cx="644.10" cy="433.92" r="1.85"/><circle cx="646.19" cy="434.41" r="1.85"/><circle cx="648.28" cy="434.41" r="1.85"/><circle cx="650.38" cy="433.11" r="1.85"/><circle cx="652.47" cy="430.83" r="1.85"/><circle cx="654.56" cy="428.07" r="1.85"/><circle cx="656.66" cy="433.44" r="1.85"/><circle cx="658.75" cy="432.30" r="1.85"/><circle cx="660.84" cy="431.97" r="1.85"/><circle cx="662.94" cy="431.81" r="1.85"/><circle cx="665.03" cy="423.35" r="1.85"/><circle cx="667.12" cy="419.93" r="1.85"/><circle cx="669.21" cy="428.07" r="1.85"/><circle cx="671.31" cy="434.90" r="1.85"/></g>
<line x1="543.63" y1="434.90" x2="652.47" y2="415.45" stroke="#222" stroke-width="0.8" stroke-dasharray="2.3 1.7"/>
</svg>
</body></html>
